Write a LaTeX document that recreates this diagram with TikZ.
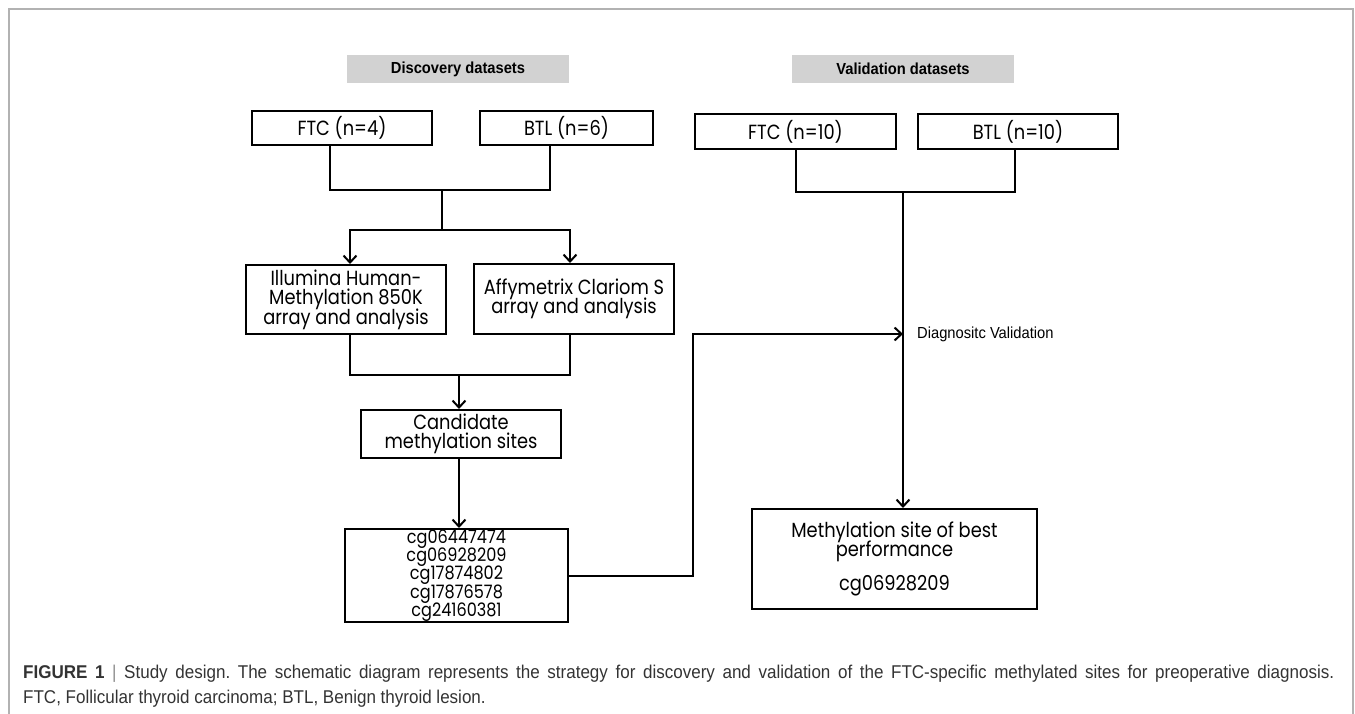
\documentclass[tikz,border=0pt]{standalone}
\usepackage{fontspec}
\usepackage{tikz}
\usetikzlibrary{positioning, arrows.meta}
\newfontfamily\gothic[FakeStretch=0.87]{Poppins}
\newfontfamily\arialfont[FakeStretch=0.92]{Liberation Sans}
\newcommand{\tightlines}{\setlength{\lineskiplimit}{-100pt}}
\frenchspacing
\tikzset{
    box/.style={draw, line width=2pt, inner sep=0pt, align=center, font=\gothic\fontsize{20.5}{18.5}\selectfont\tightlines},
    head/.style={fill=gray!35, inner sep=0pt, font=\arialfont\bfseries\fontsize{16}{16}\selectfont},
    link/.style={line width=2pt},
    arr/.style={line width=2pt, -{Straight Barb[length=7pt, width=13pt]}},
    lab/.style={inner sep=0pt, font=\arialfont\fontsize{16}{16}\selectfont},
    captext/.style={anchor=west, inner sep=0pt, text=black!80, font=\arialfont\fontsize{18.5}{18.5}\selectfont}
}

\begin{document}
\begin{tikzpicture}[x=1pt, y=-1pt]
        \useasboundingbox (0, 0) rectangle (1355, 714);
        \draw[black!30, line width=1.5pt] (9, 714) -- (9, 9) -- (1353, 9) -- (1353, 714);

        \node[head, minimum width=222pt, minimum height=28pt] (disc) at (458, 69) {Discovery datasets\hspace{16pt}};
        \node[head, minimum width=222pt, minimum height=28pt] (vali) at (903, 69) {Validation datasets\hspace{16pt}};

        \node[box, minimum width=180pt, minimum height=34pt] (ftca) at (342, 128) {FTC (n=4)};
        \node[box, minimum width=173pt, minimum height=34pt] (btla) at (566.5, 128) {BTL (n=6)};
        \node[box, minimum width=201pt, minimum height=35pt] (ftcb) at (795.5, 131.5) {FTC (n=10)};
        \node[box, minimum width=200pt, minimum height=35pt] (btlb) at (1018, 131.5) {BTL (n=10)};

        \node[box, minimum width=200pt, minimum height=69pt, font=\gothic\fontsize{20.5}{19.5}\selectfont\tightlines] (illu) at (346, 299.5) {Illumina Human-\\Methylation 850K\\array and analysis};
        \node[box, minimum width=200pt, minimum height=70pt] (affy) at (574, 299) {Affymetrix Clariom S\\array and analysis};
        \node[box, minimum width=200pt, minimum height=48pt] (cand) at (461, 434) {Candidate\\methylation sites};
        \node[box] (sites) at (456.5, 575.5) {\parbox[c][93pt][c]{223pt}{\centering\fontsize{18.5}{18.2}\selectfont\tightlines cg06447474\\cg06928209\\cg17874802\\cg17876578\\cg24160381}};
        \node[box, minimum width=285pt, minimum height=100pt] (best) at (894.5, 559) {Methylation site of best\\performance\\[16pt]cg06928209};

        \coordinate (ma) at (442, 190);
        \coordinate (sa) at (442, 230);
        \coordinate (mc) at (459, 375);
        \coordinate (mb) at (903, 192);
        \coordinate (dv) at (903, 334);
        \coordinate (kink) at (693, 334);

        \draw[link] ([xshift=-12pt]ftca.south) |- (ma) -| ([xshift=-16.5pt]btla.south);
        \draw[link] (ma) -- (sa);
        \draw[arr] (sa) -| ([xshift=4pt]illu.north);
        \draw[arr] (sa) -| ([xshift=-4pt]affy.north);
        \draw[link] ([xshift=4pt]illu.south) |- (mc) -| ([xshift=-4pt]affy.south);
        \draw[arr] (mc) -- (mc |- cand.north);
        \draw[arr] (cand.south -| mc) -- (sites.north -| mc);

        \draw[link] (ftcb.south) |- (mb) -| ([xshift=-3pt]btlb.south);
        \draw[arr] (mb) -- (mb |- best.north);
        \draw[arr] (sites.east) -| (kink) -- (dv);
        \node[lab, right=14pt of dv] (diag) {Diagnositc Validation};

        \node[captext] (cap) at (23, 674) {\makebox[1311pt][s]{\textbf{FIGURE 1} \textcolor{black!45}{|} Study design. The schematic diagram represents the strategy for discovery and validation of the FTC-specific methylated sites for preoperative diagnosis.}};
        \node[captext] (cap2) at (23, 699) {FTC, Follicular thyroid carcinoma; BTL, Benign thyroid lesion.};
\end{tikzpicture}
\end{document}
